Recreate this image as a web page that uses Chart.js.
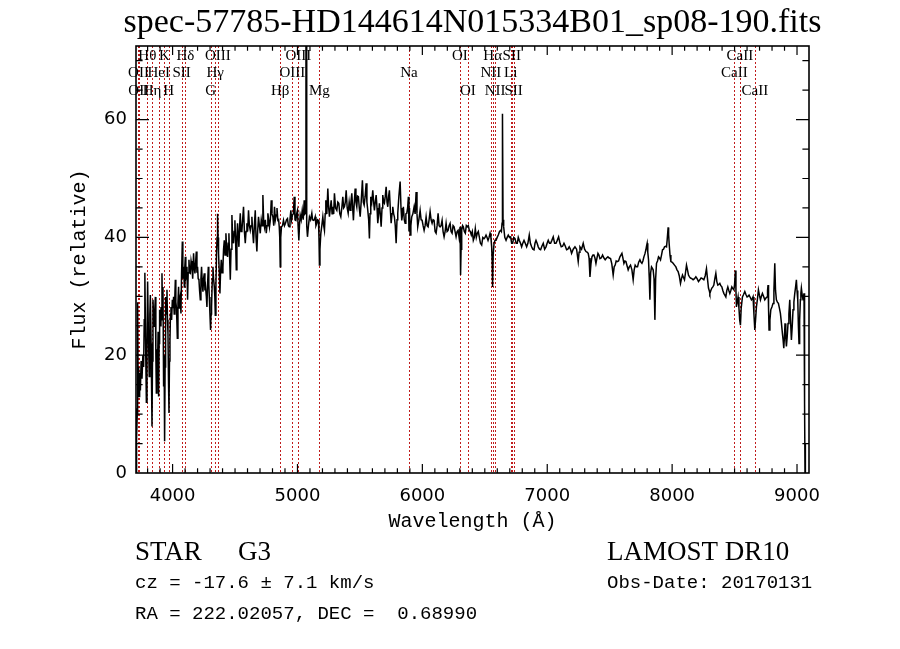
<!DOCTYPE html>
<html>
<head>
<meta charset="utf-8">
<title>spec-57785-HD144614N015334B01_sp08-190</title>
<script src="https://cdn.jsdelivr.net/npm/chart.js@4.4.1/dist/chart.umd.min.js"></script>
<style>
html, body { margin: 0; padding: 0; background: #ffffff; }
#wrap { width: 900px; height: 649px; }
</style>
</head>
<body>
<div id="wrap"><canvas id="spec" width="900" height="649"></canvas></div>
<script>
// 파장 (Å) - 그림에서 읽은 값
const wavelength = [
  3708,3710,3713,3717,3720,3724,3728,3732,3736,3742,3748,3755,3762,3768,3773,3778,3784,3790,3795,3800,
  3806,3813,3818,3822,3828,3835,3839,3843,3849,3854,3858,3862,3866,3870,3875,3880,3884,3888,3892,3896,
  3902,3907,3911,3915,3919,3923,3928,3932,3936,3940,3944,3950,3955,3959,3963,3967,3971,3975,3979,3983,
  3987,3992,3998,4003,4008,4013,4018,4022,4026,4030,4034,4038,4043,4048,4052,4056,4061,4067,4072,4078,
  4082,4086,4090,4094,4098,4102,4106,4110,4115,4120,4125,4131,4136,4142,4148,4155,4161,4168,4173,4179,
  4185,4190,4195,4200,4205,4211,4216,4222,4227,4232,4238,4243,4248,4254,4259,4264,4270,4275,4280,4286,
  4290,4294,4299,4304,4308,4312,4318,4323,4328,4334,4338,4342,4347,4352,4356,4360,4364,4368,4374,4379,
  4384,4390,4396,4403,4408,4414,4420,4427,4433,4440,4445,4451,4456,4462,4468,4475,4481,4488,4493,4499,
  4505,4510,4515,4520,4526,4531,4537,4542,4548,4555,4561,4568,4575,4582,4588,4595,4601,4608,4615,4622,
  4628,4635,4641,4648,4655,4662,4668,4675,4681,4688,4695,4702,4710,4717,4723,4729,4736,4743,4750,4756,
  4763,4770,4776,4783,4790,4796,4803,4810,4816,4823,4830,4836,4843,4849,4854,4858,4862,4866,4872,4880,
  4888,4896,4904,4912,4920,4927,4934,4940,4947,4953,4960,4967,4974,4980,4987,4993,5000,5005,5011,5016,
  5022,5030,5038,5046,5054,5060,5064,5068,5070,5072,5076,5080,5088,5096,5105,5115,5121,5128,5135,5142,
  5148,5155,5161,5168,5172,5176,5180,5187,5195,5203,5210,5216,5222,5227,5235,5243,5250,5256,5263,5270,
  5277,5283,5290,5296,5305,5315,5323,5331,5339,5347,5355,5363,5370,5376,5383,5390,5398,5406,5414,5422,
  5428,5435,5442,5448,5455,5462,5468,5475,5481,5488,5495,5502,5510,5520,5527,5534,5542,5550,5556,5563,
  5570,5576,5581,5587,5595,5603,5610,5616,5623,5630,5637,5643,5650,5656,5663,5670,5677,5683,5690,5696,
  5703,5710,5717,5723,5730,5736,5743,5750,5757,5763,5770,5776,5783,5790,5797,5803,5812,5822,5829,5835,
  5842,5848,5855,5862,5868,5875,5882,5888,5893,5897,5902,5908,5915,5924,5934,5942,5950,5957,5963,5972,
  5982,5990,5998,6006,6014,6022,6030,6038,6046,6054,6062,6070,6078,6086,6094,6102,6110,6118,6126,6134,
  6142,6150,6158,6166,6174,6182,6190,6198,6206,6214,6222,6230,6238,6246,6254,6262,6270,6278,6286,6294,
  6302,6305,6307,6310,6315,6322,6328,6336,6344,6352,6360,6368,6376,6384,6392,6400,6408,6416,6424,6432,
  6440,6448,6456,6465,6475,6484,6494,6502,6510,6518,6526,6534,6542,6549,6555,6559,6561,6564,6567,6574,
  6582,6590,6599,6608,6618,6627,6633,6638,6640,6643,6646,6651,6660,6670,6679,6688,6698,6707,6715,6723,
  6732,6742,6751,6760,6768,6776,6786,6795,6804,6814,6824,6835,6845,6856,6865,6875,6884,6894,6902,6910,
  6919,6928,6938,6947,6957,6968,6979,6990,6999,7008,7018,7027,7037,7048,7059,7070,7080,7091,7102,7112,
  7123,7134,7145,7155,7165,7176,7186,7195,7208,7222,7235,7248,7255,7262,7275,7288,7299,7310,7319,7328,
  7335,7342,7350,7358,7366,7374,7382,7390,7398,7406,7414,7422,7432,7443,7454,7464,7475,7486,7496,7507,
  7517,7528,7536,7544,7552,7560,7571,7582,7590,7598,7606,7614,7622,7630,7639,7648,7657,7667,7678,7688,
  7696,7704,7713,7723,7732,7742,7750,7758,7766,7774,7782,7790,7795,7800,7805,7811,7817,7822,7828,7835,
  7841,7848,7855,7862,7868,7875,7883,7891,7899,7907,7915,7923,7931,7939,7947,7955,7960,7968,7972,7976,
  7983,7990,7999,8008,8019,8030,8039,8048,8057,8067,8075,8083,8091,8099,8107,8115,8123,8131,8139,8147,
  8158,8168,8179,8190,8200,8211,8222,8232,8243,8254,8265,8275,8283,8291,8297,8302,8310,8318,8326,8334,
  8342,8350,8358,8366,8374,8382,8390,8398,8406,8414,8422,8430,8438,8446,8454,8462,8470,8478,8486,8494,
  8500,8507,8511,8515,8521,8528,8535,8541,8547,8553,8563,8572,8582,8591,8600,8608,8616,8626,8635,8642,
  8648,8655,8662,8668,8675,8683,8691,8699,8707,8715,8723,8732,8742,8751,8760,8764,8768,8772,8776,8783,
  8790,8799,8808,8815,8822,8828,8835,8843,8851,8859,8867,8875,8883,8889,8894,8899,8904,8910,8915,8921,
  8928,8935,8942,8948,8955,8962,8968,8975,8982,8988,8995,9000,9006,9011,9016,9021,9027,9031,9035,9041,
  9048,9052,9056,9059,9062,9064,9066,9068
];

// 상대 플럭스
const flux = [
  0,11,6,10,29,15,18,13,17,14,19,16,20,18,26,34,22,12,21,32.5,
  24,16.4,27,30.2,22,7.9,19,29.4,26,24.9,28,29.9,20,13.6,21,19.2,24,13,22,27.7,
  25,28.2,26,33.9,27,31.6,14.7,20,5.4,18,29.9,27,31.1,26,23.7,16,10.2,19,22.6,27,
  28.2,26,29.4,28,29.9,27,30,32.8,29,28.2,26,22.9,29,31.6,28,29.4,30,27.1,34,39.3,
  33,35,34,31.6,35,36.7,33,33.3,35,29.4,34,36.2,34,33.9,36,35,33,37.3,35,33.9,
  36,37.6,34,35,33,32.8,31,29.4,33,35,32,30.8,33,33.9,31,31.6,30,28.2,32,35,
  32,29.9,27,24.3,27,28.2,33,35,33,31.6,30,26.8,32,37.3,40,44,40,37.3,34,30.5,
  34,36.2,34,35,38,39.5,37,40.7,38,36.7,39,40.7,37,32.8,38,43.8,40,39,41,42.9,
  39,34.5,40,42.4,40,38.4,42,44.1,41,41.2,43,45.2,41,39,41,42.4,41,44.6,42,41.2,
  42,43.5,41,39,42,44.6,40,37.6,41,43.5,42,40.7,43,42,47.2,43,41.8,43,40.7,42,
  44.1,43,41.8,43,46.3,44,43.5,42,45.2,43,43.8,45,42.9,43,41.8,40,35,40,41.8,42,
  42.9,42,42.4,43,43.2,42,41.8,43,44.6,43,43.8,44,46.9,43,42.9,44,44.6,42,39.5,42,
  43.8,43,44.6,43,46.3,44,44.1,75,75,43,42,40.1,42,43.5,43,44.1,43,42.9,43,43.5,
  42,42.4,43,42.9,40,35.3,38,40.7,42,43.5,42,41.2,44,46.3,44,48.3,45,43.5,45,46.3,
  44,45.2,44,47.5,45,44.6,46,45.8,44,43.5,45,46.9,45,45.2,46,48,45,44.1,46,44.6,
  46,47.5,45,42.9,46,48.3,46,45.2,47,46.9,45,43.5,46,49.7,46,45.5,47,49.2,46,44.6,
  43,39.8,44,46.9,46,48,46,44.6,46,47.2,45,42.4,44,45.8,44,41.8,45,47.2,46,45.8,
  47,48.6,46,45.2,47,48,45,42.4,44,45.2,44,43.5,42,39,43,44.1,47,49.5,45,42.9,
  44,45.2,43,42.4,44,44.1,45,46.9,41,45,40.4,42,43.5,44,45.2,44,47.7,44,41.8,43,
  44.6,43,42.9,42,41.2,42,43.5,42,41.8,43,44.4,43,42.4,43,42.9,41,40.7,42,44.1,42,
  41.8,42,42.9,41,40.1,41,42.4,41,41.2,42,42.4,41,40.7,42,41.8,41,40.1,41,41.2,40,
  41.8,36,33.6,38,41.2,42,41.8,41,40.7,42,41.8,42,41.2,41,40.4,41,39.5,40,41.5,40,
  40.7,41,40.1,39,38.7,40,39.8,40,40.4,40,39.5,40,40.7,40,38.4,36,31.6,32,37,39,
  39.5,39.5,40,40.4,41,41.2,41,42.4,61,61,43,41.8,40,39.5,40,40.4,40,40.1,39,39,
  40,39.8,39,39,40,39.5,39,38.4,39,39.5,39,38.4,39,40.4,39,38.4,38,37.9,39,39.5,
  39,38.4,38,37.9,38.5,39,38,38.4,39,39.5,39,39,39.5,40.1,39,39,39.5,40.1,39,38.4,
  38.5,39,38.5,37.9,38,38.4,38,37.3,38,38.4,38,35.9,37.5,38.4,38,39,38,37.6,37.5,37.3,
  36.5,33.3,35.5,36.7,37,37,36.5,35.6,36.5,37.3,37,36.4,36.5,37,36.5,36.2,36.5,36.7,36.5,36.4,
  35.5,33.6,35,35.3,36,35.9,36,36.7,37,37.3,36.5,35.6,36,35.9,35.2,34.5,35,35.3,34.5,32.8,
  34.5,35.3,35,35,35.8,36.2,35.8,35.6,36,36.7,37.2,37.9,38.5,39,37.5,36.2,33,29.4,34,35,
  34.8,34.5,33,26,33,35.6,36,36.7,36.5,36.2,37,37.9,38,38.4,38.5,38.4,39.5,41.7,40.5,39,
  37,35.9,35.8,35.6,35.3,35,34.5,34.2,33.5,32.2,33,33.6,33.2,32.8,34,35.3,34.5,33.6,33.3,33.1,
  33,32.8,33,33.3,33,32.5,32.8,33.1,33,32.8,33.5,34.7,33,31.4,31,30.5,31,31.4,31.6,31.9,
  33,33.9,32.5,31.9,32,32.2,31.8,31.6,31,30.5,30.2,29.9,31,31.6,31,30.5,31,31.6,31.3,31.1,
  32,34.4,31,28.2,29,29.9,28,26,25.1,28,29.9,30.3,30.8,30.3,29.9,30,30.2,29.8,29.4,29.6,
  29.9,27,24.3,26,28.2,29.5,31.1,30.2,29.4,30,30.5,30,29.4,29.7,29.9,31,31.9,28,24.3,26,
  27.7,28.2,28.8,31,35.6,31,29.4,29,28.8,28,27.1,25.5,23.7,22.5,21.2,23,25.4,23,21.5,23,
  25.4,27,29.4,26,22.6,25,27.7,29,30.5,31.5,32.8,31,29.4,25,22,26,29.4,30.5,31.4,30.3,
  29.4,30,30.5,28,11.8,0,5,0
];

// 축 눈금
const xTickLabels = [4000, 5000, 6000, 7000, 8000, 9000];
const yTickLabels = [0, 20, 40, 60];
const xRange = [3707, 9096];
const yRange = [0, 72.5];

// 스펙트럼 선 표시
const specLineWave = [3727,3729,3798,3835,3889,3934,3969,4072,4102,4304,4341,4363,4861,4959,5007,5175,5893,6300,6364,6548,6563,6583,6708,6716,6731,8498,8542,8662];
const specLineName = ['OII','OII','Hθ','Hη','HeI','K','H','SII','Hδ','G','Hγ','OIII','Hβ','OIII','OIII','Mg','Na','OI','OI','NII','Hα','NII','Li','SII','SII','CaII','CaII','CaII'];
const specLineRow  = [1,2,0,2,1,0,2,1,0,2,1,0,2,1,0,2,1,0,2,1,0,2,1,0,2,1,0,2];

// 하단 정보 텍스트
const objClass = 'STAR';
const objSubclass = 'G3';
const czText = 'cz = -17.6 ± 7.1 km/s';
const coordText = 'RA = 222.02057, DEC =  0.68990';
const releaseText = 'LAMOST DR10';
const obsDateText = 'Obs-Date: 20170131';

const LINE_RED = '#c01c1c';
const labelRowY = [56, 73.5, 91];
const MONO = '"Liberation Mono", monospace';

// 점선 (스펙트럼 선 위치) + 테두리, 눈금, 글자
const lineMarks = {
    id: 'lineMarks',
    beforeDatasetsDraw(chart) {
        const { ctx, chartArea: a, scales: { x } } = chart;
        ctx.save();
        ctx.strokeStyle = LINE_RED;
        ctx.lineWidth = 1;
        ctx.setLineDash([2, 2]);
        specLineWave.forEach(w => {
            const px = Math.round(x.getPixelForValue(w)) + 0.5;
            ctx.beginPath();
            ctx.moveTo(px, a.top);
            ctx.lineTo(px, a.bottom);
            ctx.stroke();
        });
        ctx.restore();
    },
    afterDatasetsDraw(chart) {
        const { ctx, chartArea: a, scales: { x, y } } = chart;
        ctx.save();
        // 테두리
        ctx.strokeStyle = '#000';
        ctx.lineWidth = 1.6;
        ctx.strokeRect(a.left, a.top, a.right - a.left, a.bottom - a.top);

        // 안쪽 눈금 (네 변)
        ctx.lineWidth = 1.2;
        ctx.beginPath();
        for (let v = 3800; v <= 9000; v += 100) {
            const px = x.getPixelForValue(v);
            const len = v % 1000 === 0 ? 9 : 4.7;
            ctx.moveTo(px, a.bottom); ctx.lineTo(px, a.bottom - len);
            ctx.moveTo(px, a.top); ctx.lineTo(px, a.top + len);
        }
        for (let v = 5; v <= 70; v += 5) {
            const py = y.getPixelForValue(v);
            const len = v % 20 === 0 ? 13 : 6.6;
            ctx.moveTo(a.left, py); ctx.lineTo(a.left + len, py);
            ctx.moveTo(a.right, py); ctx.lineTo(a.right - len, py);
        }
        ctx.stroke();

        // 선 이름
        ctx.fillStyle = '#000';
        ctx.font = '15px "Liberation Serif", serif';
        ctx.textAlign = 'center';
        ctx.textBaseline = 'middle';
        specLineWave.forEach((w, i) => {
            ctx.fillText(specLineName[i], x.getPixelForValue(w), labelRowY[specLineRow[i]]);
        });
        ctx.restore();
    },
    afterDraw(chart) {
        const { ctx } = chart;
        ctx.save();
        ctx.fillStyle = '#000';
        ctx.textAlign = 'left';
        ctx.textBaseline = 'alphabetic';
        ctx.font = '27px "Liberation Serif", serif';
        ctx.fillText(objClass, 135, 560);
        ctx.fillText(objSubclass, 238, 560);
        ctx.fillText(releaseText, 607, 560);
        ctx.font = '19px ' + MONO;
        ctx.fillText(czText, 135, 588);
        ctx.fillText(coordText, 135, 619);
        ctx.fillText(obsDateText, 607, 588);
        ctx.restore();
    }
};

const points = wavelength.map((w, i) => ({ x: w, y: flux[i] }));

new Chart(document.getElementById('spec'), {
    type: 'line',
    data: {
        datasets: [{
            data: points,
            borderColor: '#000000',
            borderWidth: 1.5,
            pointRadius: 0,
            tension: 0,
            fill: false,
            yAxisID: 'y'
        }]
    },
    options: {
        responsive: false,
        animation: false,
        events: [],
        layout: { padding: { left: 45, right: 0, top: 0, bottom: 0 } },
        plugins: {
            legend: { display: false },
            tooltip: { enabled: false },
            title: {
                display: true,
                text: 'spec-57785-HD144614N015334B01_sp08-190.fits',
                color: '#000',
                font: { family: '"Liberation Serif", serif', size: 34, weight: 'normal', lineHeight: 1 },
                padding: { top: 6, bottom: 6 }
            }
        },
        scales: {
            x: {
                type: 'linear',
                min: xRange[0],
                max: xRange[1],
                afterBuildTicks: s => { s.ticks = xTickLabels.map(v => ({ value: v })); },
                afterFit: s => { s.height = 176; },
                border: { display: false },
                grid: { display: false, drawTicks: false, tickLength: 0 },
                ticks: {
                    color: '#000',
                    padding: 13,
                    maxRotation: 0,
                    autoSkip: false,
                    callback: v => String(v),
                    font: { family: '"DejaVu Sans", sans-serif', size: 18 }
                },
                title: {
                    display: true,
                    text: 'Wavelength (Å)',
                    color: '#000',
                    font: { family: MONO, size: 20 },
                    padding: { top: 0, bottom: 115 }
                }
            },
            y: {
                type: 'linear',
                position: 'left',
                min: yRange[0],
                max: yRange[1],
                afterBuildTicks: s => { s.ticks = yTickLabels.map(v => ({ value: v })); },
                afterFit: s => { s.width = 91; },
                border: { display: false },
                grid: { display: false, drawTicks: false, tickLength: 0 },
                ticks: {
                    color: '#000',
                    padding: 9,
                    autoSkip: false,
                    callback: v => String(v),
                    font: { family: '"DejaVu Sans", sans-serif', size: 18 }
                },
                title: {
                    display: true,
                    text: 'Flux (relative)',
                    color: '#000',
                    font: { family: MONO, size: 20 },
                    padding: { top: 23, bottom: 0 }
                }
            },
            yRight: {
                type: 'linear',
                position: 'right',
                min: yRange[0],
                max: yRange[1],
                afterFit: s => { s.width = 91; },
                border: { display: false },
                grid: { display: false, drawTicks: false },
                ticks: { display: false }
            }
        }
    },
    plugins: [lineMarks]
});
</script>
</body>
</html>
